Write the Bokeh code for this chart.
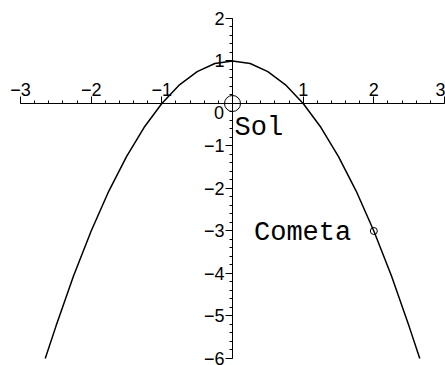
from bokeh.plotting import figure
from bokeh.models import SingleIntervalTicker, Label
from bokeh.embed import file_html
from bokeh.resources import INLINE

# Parabola (y = 1 - x^2 shape)
curve_x = [-2.65, -2.5, -2.25, -2.0, -1.75, -1.5, -1.25, -1.0, -0.75, -0.5, -0.25, 0.0,
           0.25, 0.5, 0.75, 1.0, 1.25, 1.5, 1.75, 2.0, 2.25, 2.5, 2.65]
curve_y = [-6.0, -5.25, -4.06, -3.0, -2.06, -1.25, -0.56, 0.0, 0.44, 0.75, 0.94, 1.0,
           0.94, 0.75, 0.44, 0.0, -0.56, -1.25, -2.06, -3.0, -4.06, -5.25, -6.0]

sun_x = [0.0]
sun_y = [0.0]
comet_x = [2.0]
comet_y = [-3.0]

x_ticks = [-3, -2, -1, 0, 1, 2, 3]
x_tick_labels = ["\u22123", "\u22122", "\u22121", "", "1", "2", "3"]
y_ticks = [-6, -5, -4, -3, -2, -1, 0, 1, 2]
y_tick_labels = ["\u22126", "\u22125", "\u22124", "\u22123", "\u22122", "\u22121", "", "1", "2"]

# axis extents (the drawn axis lines) and the slightly larger visible window
x_bounds = (-3, 3)
y_bounds = (-6, 2)

p = figure(width=445, height=365, x_range=(-3.283, 3.014), y_range=(-6.165, 2.4235),
           output_backend="svg", toolbar_location=None,
           x_axis_location="above", y_axis_location="left",
           min_border_left=0, min_border_right=0, min_border_top=0, min_border_bottom=0)
p.outline_line_color = None
p.xgrid.visible = False
p.ygrid.visible = False
p.background_fill_color = "white"
p.border_fill_color = "white"

for ax, ticks, labels, bounds in ((p.xaxis[0], x_ticks, x_tick_labels, x_bounds),
                                  (p.yaxis[0], y_ticks, y_tick_labels, y_bounds)):
    ax.fixed_location = 0
    ax.bounds = bounds
    ax.ticker = SingleIntervalTicker(interval=1, num_minor_ticks=5)
    ax.major_label_overrides = dict(zip(ticks, labels))
    ax.major_tick_in = 0
    ax.minor_tick_in = 0
    ax.major_tick_out = 7
    ax.minor_tick_out = 3
    ax.axis_line_color = "black"
    ax.major_tick_line_color = "black"
    ax.minor_tick_line_color = "black"
    ax.major_label_text_font = "Liberation Sans"
    ax.major_label_text_font_size = "18px"
    ax.major_label_text_color = "black"

p.xaxis[0].major_label_standoff = 0
p.yaxis[0].major_label_standoff = 1

p.line(curve_x, curve_y, line_color="black", line_width=1.5)
p.scatter(sun_x, sun_y, marker="circle", size=16, fill_color=None, line_color="black", line_width=1)
p.scatter(comet_x, comet_y, marker="circle", size=7, fill_color=None, line_color="black", line_width=1)

p.add_layout(Label(x=-0.12, y=-0.22, text="0", text_align="right", text_baseline="alphabetic",
                   text_font="Liberation Sans", text_font_size="18px", text_color="black"))
p.add_layout(Label(x=0.03, y=-0.57, text="Sol", text_align="left", text_baseline="alphabetic",
                   text_font="Liberation Mono", text_font_size="27px", text_color="black"))
p.add_layout(Label(x=1.68, y=-3.05, text="Cometa", text_align="right", text_baseline="alphabetic",
                   text_font="Liberation Mono", text_font_size="27px", text_color="black"))

open("out.html", "w").write(file_html(p, INLINE))
